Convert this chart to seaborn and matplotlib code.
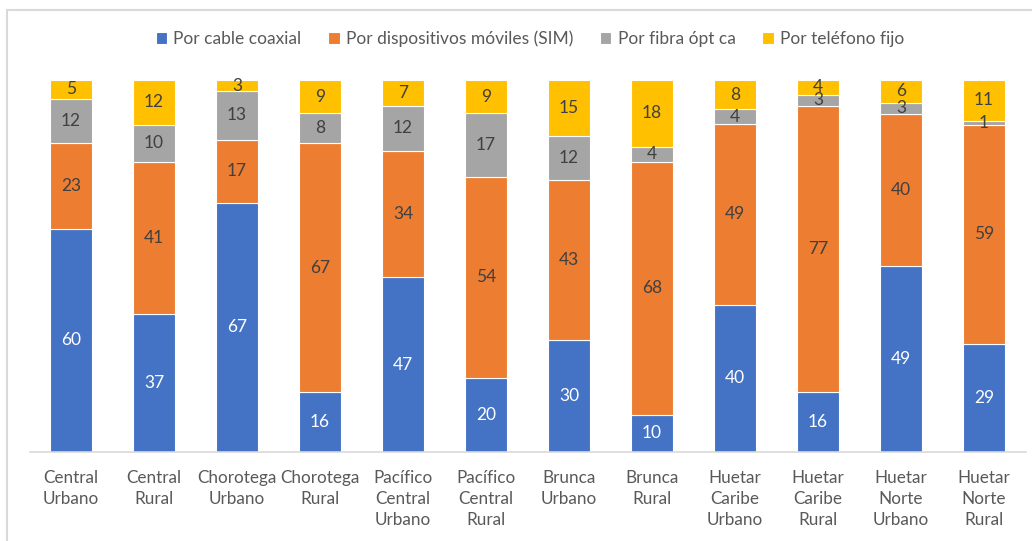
import numpy as np
import pandas as pd
import matplotlib
matplotlib.use("Agg")
import matplotlib.pyplot as plt
from matplotlib.patches import Rectangle
import seaborn as sns

# Regions (area + zone)
categories = [
    "Central\nUrbano", "Central\nRural", "Chorotega\nUrbano", "Chorotega\nRural",
    "Pacífico\nCentral\nUrbano", "Pacífico\nCentral\nRural", "Brunca\nUrbano",
    "Brunca\nRural", "Huetar\nCaribe\nUrbano", "Huetar\nCaribe\nRural",
    "Huetar\nNorte\nUrbano", "Huetar\nNorte\nRural",
]

# Connection type shares (%)
cable_coaxial = [60, 37, 67, 16, 47, 20, 30, 10, 40, 16, 49, 29]
moviles_sim = [23, 41, 17, 67, 34, 54, 43, 68, 49, 77, 40, 59]
fibra_optica = [12, 10, 13, 8, 12, 17, 12, 4, 4, 3, 3, 1]
telefono_fijo = [5, 12, 3, 9, 7, 9, 15, 18, 8, 4, 6, 11]

series_names = ["Por cable coaxial", "Por dispositivos móviles (SIM)",
                "Por fibra ópt ca", "Por teléfono fijo"]
series_values = [cable_coaxial, moviles_sim, fibra_optica, telefono_fijo]
colors = ["#4472C4", "#ED7D31", "#A5A5A5", "#FFC000"]
label_colors = ["white", "#404040", "#404040", "#404040"]

sns.set_theme(style="white")
plt.rcParams["font.family"] = ["Lato", "DejaVu Sans"]

fig = plt.figure(figsize=(10.32, 5.41), dpi=100)
ax = fig.add_axes([29.5 / 1032, 1 - 452 / 541, 996 / 1032, 372 / 541])

vals = np.array(series_values, dtype=float)
totals = vals.sum(axis=0)
shares = vals / totals * 100  # 100% stacked columns

bottom = np.zeros(len(categories))
for name, share, raw, col, lcol in zip(series_names, shares, vals, colors, label_colors):
    df = pd.DataFrame({"cat": categories, "val": share})
    sns.barplot(data=df, x="cat", y="val", order=categories, color=col,
                bottom=bottom.copy(), width=0.506, ax=ax, label=name,
                edgecolor="white", linewidth=0.8, saturation=1)
    for i, (s, r) in enumerate(zip(share, raw)):
        ax.text(i, bottom[i] + s / 2, f"{int(r)}", ha="center", va="center",
                fontsize=12.5, color=lcol)
    bottom += share

if ax.get_legend() is not None:
    ax.get_legend().remove()

ax.set_xlim(-0.5, len(categories) - 0.5)
ax.set_ylim(0, 100)
ax.set_xlabel("")
ax.set_ylabel("")
ax.set_yticks([])
for side in ["top", "right", "left"]:
    ax.spines[side].set_visible(False)
ax.spines["bottom"].set_color("#D9D9D9")
ax.spines["bottom"].set_linewidth(1.2)
ax.tick_params(axis="x", length=0, pad=13, labelsize=12.3, labelcolor="#595959")
for lbl in ax.get_xticklabels():
    lbl.set_linespacing(1.4)
    lbl.set_verticalalignment("top")

handles, labels = ax.get_legend_handles_labels()
leg = fig.legend(handles, labels, loc="center", bbox_to_anchor=(530 / 1032, 1 - 39 / 541),
                 ncol=4, frameon=False, fontsize=12.5, handlelength=0.65, handleheight=0.65,
                 handletextpad=0.35, columnspacing=1.55, labelcolor="#595959")

# Outer chart frame
fig.patches.append(Rectangle((7 / 1032, -0.05), 1.1, 1 - 9.5 / 541 + 0.05,
                             transform=fig.transFigure, fill=False,
                             edgecolor="#D9D9D9", linewidth=1.5, zorder=0))

fig.savefig("out.png", dpi=100)
